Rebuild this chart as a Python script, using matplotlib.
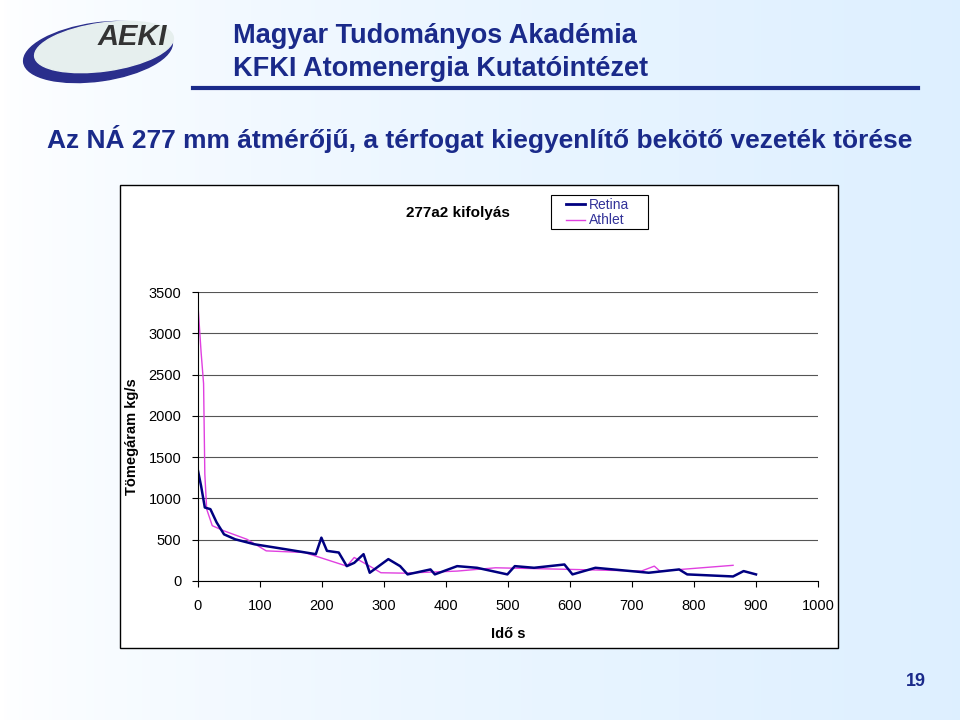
import numpy as np
import matplotlib.pyplot as plt
from matplotlib.patches import Ellipse, Rectangle

# Retina (navy) time/flow points
retina_t = [0, 5, 11, 20, 30, 42, 60, 91, 141, 190, 199, 208, 227, 240, 252, 267, 277,
            307, 326, 338, 375, 382, 418, 450, 499, 511, 542, 591, 604, 641, 727, 776,
            789, 863, 880, 900]
retina_v = [1335, 1150, 890, 870, 710, 565, 505, 445, 385, 325, 525, 365, 345, 180, 220,
            325, 100, 265, 180, 80, 140, 80, 180, 160, 80, 180, 160, 200, 80, 160, 100,
            140, 80, 55, 120, 80]
# Athlet (magenta)
athlet_t = [0, 0.5, 5, 9, 11, 14, 23, 42, 79, 110, 172, 240, 252, 277, 295, 332, 418,
            480, 604, 715, 736, 745, 863]
athlet_v = [0, 3280, 2770, 2390, 1295, 870, 670, 607, 505, 365, 345, 180, 285, 180, 100,
            95, 120, 160, 140, 120, 180, 120, 190]

x_ticks = [0, 100, 200, 300, 400, 500, 600, 700, 800, 900, 1000]
y_ticks = [0, 500, 1000, 1500, 2000, 2500, 3000, 3500]

W, H = 960, 720
fig = plt.figure(figsize=(9.6, 7.2), dpi=100)
plt.rcParams['font.family'] = ['Liberation Sans', 'DejaVu Sans']

# background gradient
bg = fig.add_axes([0, 0, 1, 1])
grad = np.linspace(0, 1, 256)[None, :] ** 0.7
bg.imshow(np.dstack([1 - 0.13 * grad, 1 - 0.06 * grad, np.ones_like(grad)]),
          aspect='auto', extent=[0, W, H, 0])
bg.set_xlim(0, W)
bg.set_ylim(H, 0)
bg.axis('off')

# logo
bg.add_patch(Ellipse((98, 52), 150, 58, angle=-8, color='#2a2e8c'))
bg.add_patch(Ellipse((104, 47), 140, 48, angle=-8, color='#e6efee'))
bg.text(132, 37, 'AEKI', fontsize=21, fontweight='bold', style='italic',
        color='#333333', ha='center', va='center')

navy = '#1a2a8a'
bg.text(233, 36, 'Magyar Tudományos Akadémia', fontsize=19.5, fontweight='bold',
        color=navy, va='center')
bg.text(233, 69, 'KFKI Atomenergia Kutatóintézet', fontsize=19.5, fontweight='bold',
        color=navy, va='center')
bg.plot([193, 918], [88, 88], color=navy, lw=3)
bg.text(480, 139, 'Az NÁ 277 mm átmérőjű, a térfogat kiegyenlítő bekötő vezeték törése',
        fontsize=19, fontweight='bold', color=navy, ha='center', va='center')
bg.text(916, 681, '19', fontsize=13, fontweight='bold', color=navy, ha='center', va='center')

# chart box
bg.add_patch(Rectangle((120, 185), 718, 463, facecolor='white', edgecolor='black', lw=1))
bg.text(458, 213, '277a2 kifolyás', fontsize=11, fontweight='bold', ha='center', va='center')
bg.add_patch(Rectangle((551, 195), 97, 34, facecolor='white', edgecolor='black', lw=0.8))
bg.plot([566, 585], [204, 204], color='#000080', lw=2)
bg.plot([566, 585], [220, 220], color='#e040e0', lw=1)
bg.text(589, 205, 'Retina', fontsize=10, color='#333399', va='center')
bg.text(589, 220, 'Athlet', fontsize=10, color='#333399', va='center')

ax = fig.add_axes([198 / W, 1 - 581 / H, (818 - 198) / W, (581 - 292) / H])
ax.plot(athlet_t, athlet_v, color='#e040e0', lw=1)
ax.plot(retina_t, retina_v, color='#000080', lw=1.8)
ax.set_xlim(0, 1000)
ax.set_ylim(0, 3500)
ax.set_xticks(x_ticks)
ax.set_yticks(y_ticks)
ax.tick_params(labelsize=10.5, length=4, direction='out')
ax.tick_params(axis='x', pad=9)
ax.tick_params(axis='y', pad=8)
ax.grid(axis='y', color='#555555', lw=0.8)
for s in ['top', 'right']:
    ax.spines[s].set_visible(False)
ax.set_xlabel('Idő s', fontsize=10.5, fontweight='bold')
ax.set_ylabel('Tömegáram kg/s', fontsize=10.5, fontweight='bold')
ax.xaxis.set_label_coords(0.5, -0.16)
ax.yaxis.set_label_coords(-0.095, 0.5)
ax.set_facecolor('white')

fig.savefig('out.png', dpi=100)
